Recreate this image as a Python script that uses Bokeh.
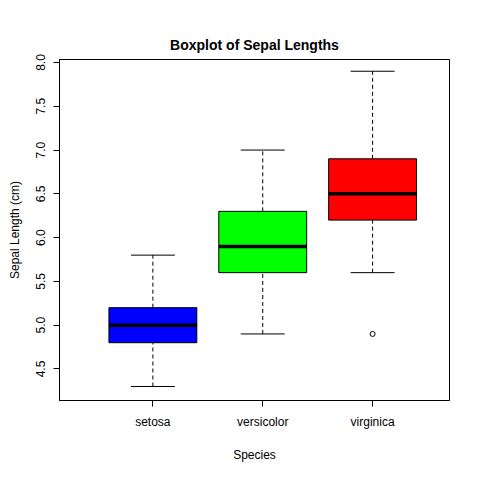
from bokeh.plotting import figure
from bokeh.models import FixedTicker, ColumnDataSource
from bokeh.embed import file_html
from bokeh.resources import INLINE

species = ["setosa", "versicolor", "virginica"]
lo = [4.3, 4.9, 5.6]
q1 = [4.8, 5.6, 6.2]
med = [5.0, 5.9, 6.5]
q3 = [5.2, 6.3, 6.9]
hi = [5.8, 7.0, 7.9]
colors = ["blue", "lime", "red"]
outlier_species = [3]
outlier_vals = [4.9]
yticks = [4.5, 5.0, 5.5, 6.0, 6.5, 7.0, 7.5, 8.0]

xs = [1, 2, 3]
src = ColumnDataSource(dict(x=xs, lo=lo, q1=q1, med=med, q3=q3, hi=hi, c=colors,
                            l=[x - 0.4 for x in xs], r=[x + 0.4 for x in xs],
                            cl=[x - 0.2 for x in xs], cr=[x + 0.2 for x in xs]))

p = figure(width=464, height=464, output_backend="svg", toolbar_location=None,
           x_range=(0.15, 3.7), y_range=(4.14, 8.034),
           title="Boxplot of Sepal Lengths",
           x_axis_label="Species", y_axis_label="Sepal Length (cm)",
           min_border_left=59, min_border_right=15, min_border_top=59, min_border_bottom=56)
p.title.align = "center"
p.title.text_font = "Liberation Sans"
p.title.text_font_size = "14px"
p.title.text_font_style = "bold"
p.title.text_color = "black"
p.title.standoff = 14
p.grid.visible = False
p.outline_line_color = "black"
p.background_fill_color = "white"

p.segment("x", "q3", "x", "hi", source=src, line_color="black", line_dash="4 3")
p.segment("x", "lo", "x", "q1", source=src, line_color="black", line_dash="4 3")
p.vbar(x="x", bottom="q1", top="q3", width=0.8, source=src, fill_color="c", line_color="black")
p.segment("l", "med", "r", "med", source=src, line_color="black", line_width=3.5)
p.segment("cl", "hi", "cr", "hi", source=src, line_color="black")
p.segment("cl", "lo", "cr", "lo", source=src, line_color="black")
p.scatter(outlier_species, outlier_vals, size=5, fill_color=None, line_color="black")

p.xaxis.ticker = FixedTicker(ticks=xs)
p.xaxis.major_label_overrides = {i + 1: s for i, s in enumerate(species)}
p.yaxis.ticker = FixedTicker(ticks=yticks)
p.yaxis.major_label_orientation = "vertical"
for ax in (p.xaxis, p.yaxis):
    ax.minor_tick_line_color = None
    ax.axis_line_color = "black"
    ax.major_tick_line_color = "black"
    ax.major_tick_out = 6
    ax.major_tick_in = 0
    ax.major_label_standoff = 8
    ax.major_label_text_font = "Liberation Sans"
    ax.major_label_text_font_size = "12px"
    ax.major_label_text_color = "black"
    ax.axis_label_text_font = "Liberation Sans"
    ax.axis_label_text_font_size = "12px"
    ax.axis_label_text_font_style = "normal"
    ax.axis_label_text_color = "black"
p.xaxis.axis_label_standoff = 16
p.yaxis.axis_label_standoff = 12
p.yaxis.major_label_overrides = {t: f"{t:.1f}" for t in yticks}

open("out.html", "w").write(file_html(p, INLINE))
